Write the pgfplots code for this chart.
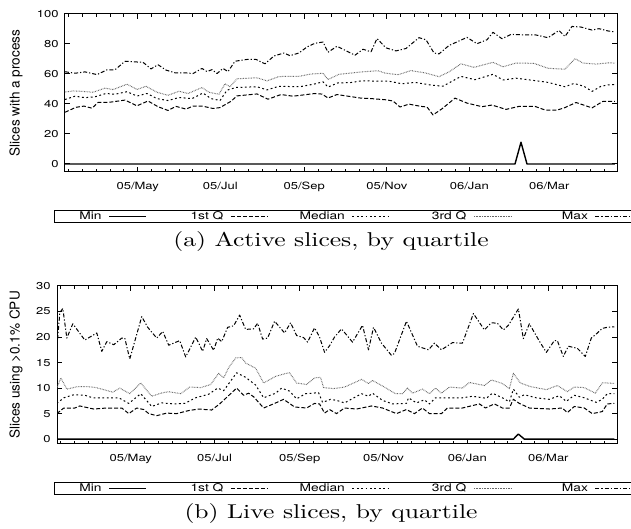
\documentclass[border=0pt]{standalone}
\usepackage{pgfplots}
\pgfplotsset{compat=1.18}
\usepackage{graphicx}
\usepackage{fontspec}
\newfontfamily\helw[FakeStretch=1.3]{TeX Gyre Heros}
\newfontfamily\hel{TeX Gyre Heros}
\newcommand{\lgt}[1]{\makebox[22pt][r]{#1}}

\pgfplotsset{
  quart/.style={
    scale only axis,
    anchor=south west,
    xmin=7.3, xmax=415,
    xtick={61,122,184,245,306,365},
    xticklabels={05/May,05/Jul,05/Sep,05/Nov,06/Jan,06/Mar},
    minor xtick={10.2,20.3,30.5,40.7,50.8,71.2,81.3,91.5,101.7,111.8,132.3,142.7,153,163.3,173.7,194.2,204.3,214.5,224.7,234.8,255.2,265.3,275.5,285.7,295.8,315.8,325.7,335.5,345.3,355.2,375.2,385.3,395.5,405.7},
    tick align=inside,
    major tick length=2.7pt,
    minor tick length=1.3pt,
    every tick/.style={black, line width=0.5pt},
    axis line style={line width=0.5pt},
    /pgf/number format/assume math mode=true,
    tick label style={font=\helw\fontsize{5}{6}\selectfont},
    xticklabel style={anchor=base, yshift=-8.7pt},
    yticklabel style={anchor=east, inner xsep=0pt, xshift=-3pt},
    label style={font=\hel\fontsize{6.8}{8}\selectfont},
    legend columns=5,
    legend plot pos=right,
    legend image code/.code={\draw[#1] (0pt,0pt) -- (18.5pt,0pt);},
    legend style={draw=black, line width=0.5pt, anchor=north west,
      inner xsep=1.5pt, inner ysep=0.5pt,
      font=\helw\fontsize{5.3}{6}\selectfont,
      cells={anchor=west},
      nodes={inner xsep=0pt, inner ysep=0pt, text height=3.9pt, text depth=1.1pt},
      /tikz/every odd column/.append style={column sep=3.5pt},
      /tikz/every even column/.append style={column sep=16.25pt}},
  },
  minq/.style={black, line width=0.7pt, mark=none, line join=round},
  q1/.style={black, line width=0.5pt, mark=none, dash pattern=on 2pt off 1pt, line join=round},
  med/.style={black, line width=0.5pt, mark=none, dash pattern=on 0.9pt off 1.3pt, line join=round},
  q3/.style={black!60, line width=0.5pt, mark=none, dash pattern=on 0.35pt off 0.45pt, line join=round},
  maxq/.style={black, line width=0.5pt, mark=none, dash pattern=on 2pt off 1pt on 0.6pt off 1pt, line join=round},
}

\begin{document}
\begin{tikzpicture}
\path[use as bounding box] (0,0) rectangle (315.5pt,264.5pt);

% ---------------- (a) Active slices ----------------
% x values below are positions; the filter maps them to days since 2005-03-01
\begin{axis}[quart, at={(32.5pt,178.5pt)}, width=276pt, height=79pt,
  ymin=-5.33, ymax=100, ytick={0,20,40,60,80,100},
  x filter/.expression={61+(x-137.7)/1.354},
  ylabel={Slices with a process},
  ylabel style={at={(axis description cs:-0.0888,0.5)}, anchor=center},
  legend style={at={(-0.01993,-0.2405)}}]
\addplot[minq] coordinates {(65,0) (515,0) (521,14.5) (527,0) (615,0)};
\addlegendentry{\lgt{Min}}
\addplot[q1] coordinates {(65,34.5) (76,37.8) (84,38.6) (92,37.2) (98,41) (110,41.2) (125,42.6) (137,38.8) (148,42) (158,38.2) (168,35.7) (176,38.4) (186,36.6) (193,38.6) (203,38.5) (213,37) (220,37.6) (231,41.8) (237,45.4) (257,46.7) (268,43.2) (281,46.3) (293,45.2) (303,46) (315,47) (322,46.6) (328,44) (337,46.3) (360,44) (373,43.5) (386,42.8) (393,42) (400,38) (409,39.9) (421,38.4) (427,38) (433,32.7) (442,36.8) (455,43.9) (467,40.6) (482,38.2) (492,39.3) (506,36.4) (519,38.4) (535,38.4) (545,36) (557,35.9) (565,37.6) (576,41) (592,37.4) (603,41.8) (608,41.8) (615,41.8)};
\addlegendentry{\lgt{1st Q}}
\addplot[med] coordinates {(65,43) (75,45.2) (85,44.2) (95,44.8) (106,47) (115,46.5) (127,48.2) (137,45.3) (147,47) (157,43.6) (168,42.3) (179,44.3) (192,43.6) (203,47.3) (211,43.6) (220,42.3) (227,49.2) (236,51) (257,51.5) (267,49.4) (279,51.8) (300,51.5) (315,53.4) (323,54.8) (328,51.3) (338,54.1) (350,54.2) (362,55.5) (378,55.2) (388,55.3) (402,53.5) (415,54.4) (432,52.5) (443,51.9) (461,58.4) (475,56.2) (493,59.8) (503,56) (516,57.2) (536,55.5) (548,54.4) (565,51.5) (574,53.7) (584,51.8) (592,48.4) (601,51.8) (608,52.7) (615,53)};
\addlegendentry{\lgt{Median}}
\addplot[q3] coordinates {(65,48) (73,48.7) (83,48.4) (93,47.8) (105,50.6) (113,49.6) (127,53.2) (137,49.7) (146,51.8) (157,47.8) (168,45.8) (179,48.5) (188,47) (202,51) (209,47.8) (219,46.5) (225,53.5) (230,51.5) (237,56.8) (257,57.5) (267,55.4) (279,58.3) (300,58.5) (310,59.9) (323,60.5) (328,56.3) (339,59.8) (362,61.4) (378,62.2) (385,60.6) (398,59.5) (411,62.3) (426,60.6) (439,58.2) (449,61.4) (461,66.8) (474,64.4) (493,67.8) (503,64.8) (516,67.3) (534,67.1) (548,63.8) (565,63.2) (575,70.2) (583,67.3) (596,66.6) (608,67.4) (615,67.3)};
\addlegendentry{\lgt{3rd Q}}
\addplot[maxq] coordinates {(65,61.5) (75,60.5) (85,61.4) (97,59.6) (107,62.8) (115,62.8) (125,68.5) (137,68) (143,67.8) (151,63.4) (158,66.2) (166,62.6) (175,60.8) (185,60.8) (193,60.3) (202,63.7) (207,61.6) (212,62.9) (217,60.3) (223,63.7) (228,61.6) (235,68.5) (247,69.7) (256,69.7) (265,66.8) (274,72) (284,74) (290,72.2) (299,74) (307,78) (315,80.5) (323,81.3) (328,74.5) (337,78.5) (355,72.5) (363,76.5) (371,74.8) (377,83.6) (386,77.4) (396,75.4) (406,77) (419,84.2) (426,82.8) (434,74) (439,73.4) (449,79) (467,84.4) (477,80.2) (487,82.8) (493,87.8) (502,83.5) (511,86.4) (526,86) (536,86) (548,84.2) (559,89) (565,85) (572,91.7) (581,91.3) (592,89.3) (599,90.2) (608,88.7) (615,88)};
\addlegendentry{\lgt{Max}}
\end{axis}

% ---------------- (b) Live slices ----------------
\begin{axis}[quart, at={(28.5pt,42.5pt)}, width=280pt, height=79pt,
  ymin=-0.95, ymax=30, ytick={0,5,10,15,20,25,30},
  x filter/.expression={61+(x-131)/1.375},
  ylabel={Slices using >0.1\% CPU},
  ylabel style={at={(axis description cs:-0.0732,0.5)}, anchor=center},
  legend style={at={(-0.00536,-0.242)}}]
\addplot[minq] coordinates {(57,0) (514,0) (519,1) (525,0) (615,0)};
\addlegendentry{\lgt{Min}}
\addplot[q1] coordinates {(57,5) (64,6.1) (75,6.1) (80,6.5) (94,5.9) (107,6.1) (122,6.1) (129,5) (137,6.1) (144,5.8) (149,5) (157,4.6) (167,5.1) (177,5) (189,5.6) (199,5.9) (212,5.7) (220,6.9) (237,10) (244,8.6) (249,9) (254,8.3) (264,6.1) (275,7) (284,7.8) (295,6.3) (307,6.1) (315,7) (320,6.9) (325,5.1) (330,5.8) (337,5) (345,6.1) (357,5.9) (372,6.5) (383,6.1) (397,5) (407,5.8) (415,5) (423,6.1) (430,5) (442,5) (448,6.1) (463,6.1) (480,6.9) (486,6.1) (495,6.9) (503,6.1) (510,6.1) (514,7.8) (520,7) (530,6.1) (550,5.9) (563,6.1) (568,5.2) (575,6.4) (585,6.1) (593,5) (603,5.4) (608,6.9) (615,7)};
\addlegendentry{\lgt{1st Q}}
\addplot[med] coordinates {(57,7) (64,8.1) (74,8.7) (85,8.6) (93,8.1) (105,8.1) (119,8.1) (129,7) (141,8.9) (152,6.4) (162,7.1) (174,6.9) (185,7) (196,8.1) (209,8.8) (218,10) (224,9.5) (237,13) (246,12.1) (256,10.6) (264,8.1) (276,9) (282,10) (290,9.4) (297,7.9) (306,8.9) (319,9.1) (323,7.2) (331,7.8) (337,7.6) (345,7.1) (362,8.9) (369,8.4) (373,9) (383,7.6) (393,6.9) (407,7) (409,8.1) (417,7.1) (425,7.7) (430,6.9) (436,8.1) (445,8.1) (463,8.1) (473,8.4) (487,8) (493,9) (503,8.1) (510,7.3) (514,9.8) (520,8.2) (525,8.7) (537,8.1) (550,7.8) (560,8.5) (567,7.4) (575,8.6) (585,8.1) (597,7.2) (603,7.8) (608,8.9) (615,8.9)};
\addlegendentry{\lgt{Median}}
\addplot[q3] coordinates {(57,10) (61,12) (67,9.8) (78,10.3) (88,10.3) (96,10.1) (102,9.8) (113,9.2) (120,10) (130,8.9) (141,11) (152,8.4) (161,9) (169,9.3) (181,8.9) (190,10.2) (201,10.1) (211,10.7) (219,12.9) (224,12) (229,14) (236,15.9) (242,16) (246,14.9) (256,13.9) (264,11) (276,12.3) (285,12.8) (290,13) (297,11) (307,10.7) (315,12) (321,12.1) (324,10.1) (334,9.9) (345,10.2) (362,11.7) (369,10.9) (373,11.5) (384,10.3) (396,8.9) (403,8.9) (408,10) (413,9) (423,9.8) (430,8.9) (436,10) (442,9) (450,10.2) (463,10) (470,11.1) (485,10.5) (492,11.6) (503,10.9) (510,9.9) (514,12.9) (521,11) (531,10.3) (547,9.7) (558,10.5) (568,9.3) (575,10.2) (585,10.1) (596,9) (603,11) (608,11) (615,10.9)};
\addlegendentry{\lgt{3rd Q}}
\addplot[maxq] coordinates {(57,17.8) (60,24.8) (63,25.6) (67,19.8) (73,22.6) (85,19.4) (97,20.8) (102,17.2) (107,19.1) (114,18.5) (122,19.8) (125,19.8) (130,15.7) (142,24) (148,21.9) (157,19.8) (163,21.1) (169,18.4) (180,19.3) (186,16.1) (196,20) (203,17.2) (207,19.7) (214,17.4) (218,19.8) (222,19.1) (228,21.9) (234,22.2) (240,24.3) (246,21.5) (254,21.6) (258,22.7) (263,19.6) (268,19.8) (275,23.1) (285,20.8) (291,22.8) (297,20.3) (304,19.9) (308,19) (315,21.8) (320,20) (325,17) (330,18.3) (335,20) (342,21.6) (353,19) (363,22.3) (369,17.5) (374,21.9) (382,18.8) (392,16.4) (395,16.8) (407,23.1) (418,18.2) (429,17.5) (435,18.8) (442,17.5) (453,18.9) (463,18.8) (474,24.6) (485,21.4) (492,22.8) (498,22.7) (504,21.4) (509,22.3) (519,25.5) (524,19.7) (530,22.6) (540,19.2) (547,17) (555,19.3) (558,19.3) (564,16.2) (569,18.2) (578,17.8) (586,16.2) (592,19.8) (597,20.6) (603,21.7) (608,21.9) (615,22)};
\addlegendentry{\lgt{Max}}
\end{axis}

\node[anchor=base] at (165.5pt,141pt) {\scalebox{1.28}[1]{\fontsize{10}{12}\selectfont (a) Active slices, by quartile}};
\node[anchor=base] at (165.5pt,5pt) {\scalebox{1.28}[1]{\fontsize{10}{12}\selectfont (b) Live slices, by quartile}};
\end{tikzpicture}
\end{document}
